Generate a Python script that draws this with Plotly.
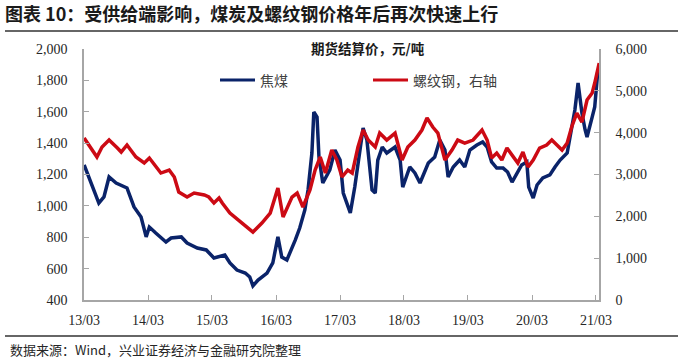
import pandas as pd
import plotly.graph_objects as go

# ---- data (time in decimal years) ----
coal_t = [2013.22, 2013.33, 2013.45, 2013.53, 2013.61, 2013.72, 2013.84, 2013.89, 2014.00, 2014.11,
          2014.19, 2014.24, 2014.34, 2014.50, 2014.58, 2014.74, 2014.83, 2014.99, 2015.13, 2015.25,
          2015.42, 2015.50, 2015.61, 2015.74, 2015.81, 2015.86, 2015.94, 2016.08, 2016.17, 2016.25,
          2016.31, 2016.39, 2016.52, 2016.59, 2016.67, 2016.72, 2016.78, 2016.81, 2016.86, 2016.89,
          2016.95, 2017.06, 2017.14, 2017.22, 2017.27, 2017.38, 2017.45, 2017.53, 2017.58, 2017.64,
          2017.72, 2017.77, 2017.81, 2017.88, 2017.95, 2018.08, 2018.16, 2018.20, 2018.31, 2018.39,
          2018.47, 2018.60, 2018.70, 2018.78, 2018.86, 2018.91, 2018.99, 2019.09, 2019.17, 2019.25,
          2019.36, 2019.45, 2019.52, 2019.59, 2019.67, 2019.77, 2019.84, 2019.91, 2019.99, 2020.06,
          2020.14, 2020.17, 2020.24, 2020.30, 2020.39, 2020.50, 2020.58, 2020.66, 2020.77, 2020.84,
          2020.89, 2020.94, 2021.00, 2021.05, 2021.08, 2021.16, 2021.20, 2021.25]
coal_v = [1261, 1146, 1018, 1057, 1184, 1146, 1120, 1114, 993, 929,
          802, 865, 827, 770, 795, 802, 763, 731, 719, 668,
          687, 636, 591, 572, 547, 490, 527, 572, 636, 802,
          674, 655, 782, 859, 974, 1101, 1337, 1598, 1566, 1312,
          1146, 1229, 1356, 1292, 1082, 955, 1120, 1356, 1496, 1420,
          1101, 1082, 1292, 1375, 1337, 1375, 1292, 1120, 1248, 1210,
          1146, 1273, 1312, 1420, 1356, 1184, 1248, 1292, 1248, 1356,
          1388, 1407, 1375, 1280, 1241, 1241, 1216, 1152, 1210, 1261,
          1280, 1120, 1050, 1133, 1178, 1197, 1248, 1292, 1337, 1503,
          1611, 1783, 1592, 1484, 1439, 1566, 1630, 1866]

rebar_t = [2013.22, 2013.42, 2013.50, 2013.61, 2013.74, 2013.80, 2013.89, 2014.03, 2014.16, 2014.24,
           2014.42, 2014.55, 2014.63, 2014.70, 2014.83, 2014.94, 2015.10, 2015.17, 2015.25, 2015.33,
           2015.38, 2015.50, 2015.69, 2015.86, 2016.00, 2016.13, 2016.25, 2016.33, 2016.47, 2016.55,
           2016.64, 2016.75, 2016.83, 2016.91, 2016.99, 2017.09, 2017.17, 2017.25, 2017.34, 2017.41,
           2017.50, 2017.58, 2017.66, 2017.77, 2017.84, 2017.95, 2018.08, 2018.19, 2018.28, 2018.39,
           2018.50, 2018.58, 2018.67, 2018.75, 2018.86, 2018.97, 2019.06, 2019.17, 2019.30, 2019.44,
           2019.52, 2019.59, 2019.67, 2019.75, 2019.83, 2019.91, 2020.00, 2020.08, 2020.16, 2020.24,
           2020.34, 2020.45, 2020.53, 2020.61, 2020.69, 2020.77, 2020.84, 2020.92, 2021.00, 2021.08,
           2021.16, 2021.20, 2021.27]
rebar_v = [3872, 3418, 3657, 3824, 3633, 3537, 3705, 3418, 3274, 3394,
           3035, 3107, 2940, 2581, 2462, 2557, 2510, 2462, 2318, 2438,
           2318, 2079, 1840, 1625, 1840, 2079, 2677, 1984, 2462, 2557,
           2223, 2629, 3107, 3418, 3035, 3585, 3346, 2940, 3107, 3035,
           3657, 4063, 3824, 3657, 3991, 3824, 3991, 3346, 3657, 3824,
           4063, 4350, 4135, 3991, 3346, 3585, 3824, 3752, 3824, 4063,
           3824, 3394, 3513, 3346, 3633, 3466, 3274, 3537, 3179, 3346,
           3633, 3705, 3824, 3705, 3585, 3752, 4135, 4469, 4254, 4780,
           4947, 5186, 5664]

tick_dates = ["2013-03-22", "2014-03-22", "2015-03-22", "2016-03-22", "2017-03-22",
              "2018-03-22", "2019-03-22", "2020-03-22", "2021-03-22"]
tick_labels = ["13/03", "14/03", "15/03", "16/03", "17/03", "18/03", "19/03", "20/03", "21/03"]

title_text = "图表 10：受供给端影响，煤炭及螺纹钢价格年后再次快速上行"
subtitle_text = "期货结算价，元/吨"
source_text = "数据来源：Wind，兴业证券经济与金融研究院整理"
name_coal = "焦煤"
name_rebar = "螺纹钢，右轴"


def to_dt(y):
    yr = int(y)
    start = pd.Timestamp(year=yr, month=1, day=1)
    end = pd.Timestamp(year=yr + 1, month=1, day=1)
    return start + (end - start) * (y - yr)


coal_x = [to_dt(t) for t in coal_t]
rebar_x = [to_dt(t) for t in rebar_t]

BLUE = "#0a2369"
RED = "#cc0a14"
AX = "#a6a6a6"
TXT = "#262626"
SERIF = "Liberation Serif"
CJK = "Noto Sans CJK SC"

fig = go.Figure()
fig.add_trace(go.Scatter(x=coal_x, y=coal_v, mode="lines", name=name_coal,
                         line=dict(color=BLUE, width=3.5), yaxis="y"))
fig.add_trace(go.Scatter(x=rebar_x, y=rebar_v, mode="lines", name=name_rebar,
                         line=dict(color=RED, width=3.5), yaxis="y2"))

axis_common = dict(showgrid=False, zeroline=False, showline=True, linecolor=AX, linewidth=1.5,
                   ticks="inside", ticklen=5, tickcolor=AX, tickwidth=1.2,
                   tickfont=dict(family=SERIF, size=14, color=TXT))

fig.update_layout(
    width=683, height=358,
    margin=dict(l=84, r=84, t=49, b=58),
    paper_bgcolor="white", plot_bgcolor="white",
    showlegend=False,
    title=dict(text="<b>" + title_text + "</b>", x=5 / 683, xanchor="left",
               y=1 - 15 / 358, yanchor="middle", xref="container", yref="container",
               font=dict(family=CJK, size=18, color="#1a1a1a")),
    xaxis=dict(type="date", range=["2013-03-21 12:00", to_dt(2021.267)],
               tickvals=tick_dates, ticktext=tick_labels, ticklabelstandoff=6, **axis_common),
    yaxis=dict(range=[400, 2000], dtick=200, tickformat=",d", ticklabelstandoff=12, **axis_common),
    yaxis2=dict(range=[0, 6000], dtick=1000, tickformat=",d", overlaying="y", side="right",
                ticklabelstandoff=12, **axis_common),
)

W, H = 515.0, 251.0  # plot area size in px


def px(xp):
    return (xp - 84) / W


def py(yp):
    return (300 - yp) / H


shapes = [
    dict(type="line", xref="paper", yref="paper", x0=px(5), x1=px(678), y0=py(31), y1=py(31),
         line=dict(color="#333333", width=1.5)),
    dict(type="line", xref="paper", yref="paper", x0=px(5), x1=px(678), y0=py(336), y1=py(336),
         line=dict(color="#333333", width=1.5)),
    dict(type="line", xref="paper", yref="paper", x0=px(220), x1=px(255), y0=py(80), y1=py(80),
         line=dict(color=BLUE, width=3.2)),
    dict(type="line", xref="paper", yref="paper", x0=px(373), x1=px(408), y0=py(80), y1=py(80),
         line=dict(color=RED, width=3.2)),
]
fig.update_layout(shapes=shapes)

annots = [
    dict(text="<b>" + subtitle_text + "</b>", x=px(368), y=py(48), xref="paper", yref="paper",
         showarrow=False, xanchor="center", yanchor="middle",
         font=dict(family=CJK, size=13.5, color="#1a1a1a")),
    dict(text=name_coal, x=px(258), y=py(80), xref="paper", yref="paper",
         showarrow=False, xanchor="left", yanchor="middle",
         font=dict(family=CJK, size=14, color="#404040")),
    dict(text=name_rebar, x=px(411), y=py(80), xref="paper", yref="paper",
         showarrow=False, xanchor="left", yanchor="middle",
         font=dict(family=CJK, size=14, color="#404040")),
    dict(text=source_text, x=px(8), y=py(349), xref="paper", yref="paper",
         showarrow=False, xanchor="left", yanchor="middle",
         font=dict(family=CJK, size=13, color="#262626")),
]
fig.update_layout(annotations=annots)

fig.write_html("out.html", config={"displayModeBar": False},
               post_script="document.body.style.margin='0';")
